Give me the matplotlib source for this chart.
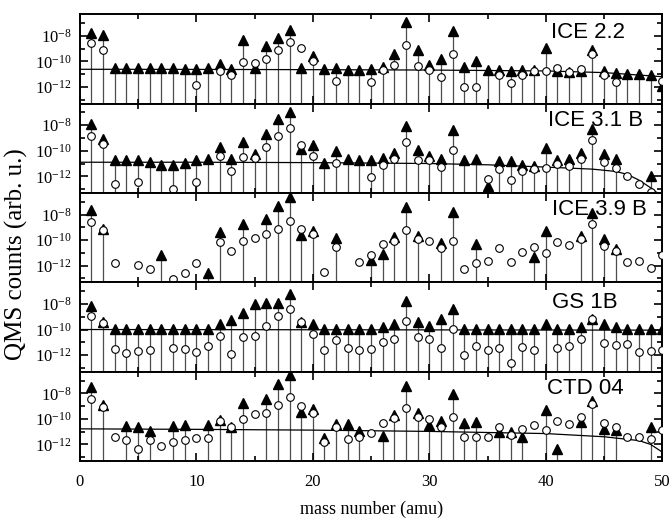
import numpy as np
import matplotlib
matplotlib.use("Agg")
import matplotlib.pyplot as plt
from matplotlib.ticker import FixedLocator, LogFormatterMathtext, NullFormatter

plt.rcParams['font.family'] = ['Liberation Serif', 'DejaVu Serif']
plt.rcParams['mathtext.fontset'] = 'stix'

nan = np.nan
masses = np.arange(1, 51)

# log10 of QMS counts, mass 1..50 (nan = not shown)
ice22_tri = [-7.79, -7.92, -10.55, -10.55, -10.55, -10.55, -10.55, -10.55, -10.6, -10.6,
             -10.55, -10.23, -10.57, -8.31, -10.5, -8.76, -8.18, -7.53, -10.5, -9.57,
             -10.6, -10.5, -10.65, -10.65, -10.6, -10.41, -9.44, -6.95, -9.1, -10.3,
             -9.84, -7.66, -10.41, -9.97, -10.68, -10.68, -10.75, -10.68, -10.68, -8.97,
             -10.75, -10.85, -10.75, -9.1, -10.75, -10.88, -10.99, -10.99, -11.07, -11.9]
ice22_circ = [-8.58, -9.1, nan, nan, nan, nan, nan, nan, nan, -11.86,
              nan, -10.73, -11.07, -10.02, -10.15, -9.84, -9.1, -8.45, -8.92, -9.97,
              nan, -11.52, nan, nan, -11.6, -10.68, -10.28, -8.71, -10.34, -10.68,
              -11.2, -9.42, -12.04, -12.04, nan, -11.07, -11.73, -11.1, -10.75, -10.74,
              -10.54, -10.8, -10.58, -9.44, -11.1, -11.6, nan, nan, nan, -11.5]

ice31_tri = [-7.87, -9.08, -10.7, -10.7, -10.76, -10.91, -11.15, -11.15, -10.97, -10.7,
             -10.63, -9.71, -10.65, -9.34, -10.23, -8.68, -7.55, -6.95, -9.84, -9.52,
             -10.97, -9.99, -10.65, -10.7, -10.7, -10.57, -10.18, -8.08, -9.91, -10.44,
             -10.62, -8.39, -10.76, -10.65, -12.75, -10.8, -10.8, -11.1, -11.2, -9.78,
             -10.7, -10.65, -10.18, -8.29, -10.26, -10.65, nan, nan, -11.94, nan]
ice31_circ = [-8.81, -9.44, -12.62, nan, -12.46, nan, nan, -12.98, nan, -12.41,
              nan, -10.44, -11.62, -10.52, -10.6, -9.71, -8.87, -8.21, -9.52, -10.39,
              nan, -10.93, nan, nan, -12.09, -11.1, -10.62, -9.31, -10.7, -10.76,
              -11.28, -9.91, nan, nan, -12.23, -11.44, -12.28, -11.62, -11.44, -11.36,
              -11.07, -11.23, -10.65, -9.13, -10.86, -11.36, -11.94, -12.62, -13.2, nan]

ice39_tri = [-7.63, -9.15, nan, nan, nan, nan, -11.18, nan, nan, nan,
             -12.57, -9.34, nan, -8.73, nan, -8.34, -7.29, -6.66, -9.6, -9.28,
             nan, -9.86, nan, nan, -11.52, -11.05, -9.73, -7.43, -9.65, nan,
             -10.26, -7.82, nan, -10.31, nan, nan, nan, nan, -11.31, -9.28,
             nan, nan, -9.68, -7.9, -9.91, -10.73, nan, nan, nan, nan]
ice39_circ = [-8.6, -9.2, -11.83, nan, -11.96, -12.27, nan, -13.01, -12.57, -11.83,
              nan, -10.18, -10.83, -10.07, -9.81, -9.5, -9.13, -8.5, -9.15, -9.55,
              -12.49, -10.52, nan, -11.75, -11.13, -10.34, -10.07, -9.2, -9.94, -10.04,
              -10.65, -10.04, -12.3, -11.83, -11.65, -10.65, -11.75, -10.91, -10.57, -10.99,
              -10.18, -10.39, -9.94, -8.73, -10.44, -10.83, -11.75, -11.65, -12.17, -11.18]

gs1b_tri = [-8.16, -9.42, -9.94, -9.94, -9.94, -9.94, -9.94, -9.94, -9.94, -9.94,
            -9.94, -9.55, -9.28, -8.68, -7.97, -7.9, -7.9, -7.24, -9.42, -9.6,
            -9.94, -9.94, -9.94, -9.94, -9.94, -9.79, -9.55, -7.76, -9.42, -9.73,
            -9.21, -8.42, -9.94, -9.94, -9.94, -9.94, -9.94, -9.94, -9.94, -9.55,
            -9.94, -9.94, -9.79, -9.21, -9.6, -9.79, -9.99, -9.99, -9.99, -9.99]
gs1b_circ = [-8.94, -9.47, -11.52, -11.83, -11.7, -11.57, nan, -11.44, -11.52, -11.75,
             -11.31, -10.52, -11.91, -10.6, -10.47, -9.73, -8.94, -8.37, -9.42, -10.39,
             -11.62, -10.83, -11.44, -11.57, -11.52, -10.99, -10.78, -9.34, -10.6, -10.78,
             -11.47, -9.99, -12.02, -11.31, -11.57, -11.47, -12.62, -11.39, -11.57, nan,
             -11.44, -11.31, -10.78, -9.21, -11.05, -11.18, -11.13, -11.75, -11.7, -11.6]

ctd04_tri = [-7.5, -8.89, nan, -10.57, -10.65, -10.91, nan, -10.57, -10.47, nan,
             -10.5, -10.07, -10.6, -8.76, nan, -8.47, -7.24, -6.58, -9.47, -9.21,
             -11.49, -10.39, -10.39, -10.91, nan, -11.31, -9.68, -7.45, -9.52, -10.44,
             -10.13, -8.03, -10.34, -10.26, nan, -10.99, -10.99, -11.39, nan, -9.34,
             -12.36, nan, -10.26, -8.6, -10.78, -10.86, nan, nan, -10.6, nan]
ctd04_circ = [-8.42, -9.08, -11.44, -11.62, -12.36, -11.62, -12.15, -11.78, -11.65, -11.49,
              -11.52, -10.2, -10.65, -9.99, -9.65, -9.52, -8.94, -8.29, -9.0, -9.55,
              -11.83, -10.65, -11.57, -11.44, -11.1, -10.34, -9.94, -9.13, -9.86, -10.02,
              -10.6, -9.86, -11.39, -11.39, -11.39, -10.6, -11.23, -10.83, -10.44, -10.86,
              -10.13, -10.39, -9.86, -8.86, -10.34, -10.6, -11.39, -11.39, -11.57, -10.86]

# background curves (log10), read at a few masses
ice22_bg_m = [0, 10, 20, 30, 40, 45, 50]
ice22_bg = [-10.62, -10.63, -10.65, -10.68, -10.75, -10.88, -11.2]
ice31_bg_m = [0, 10, 20, 30, 35, 40, 44, 46, 47, 48, 49, 50]
ice31_bg = [-10.9, -10.9, -10.93, -11.0, -11.1, -11.28, -11.44, -11.62, -11.85, -12.3, -12.9, -13.6]
gs1b_bg_m = [0, 50]
gs1b_bg = [-10.0, -10.05]
ctd04_bg_m = [0, 10, 20, 30, 40, 45, 48, 49, 50]
ctd04_bg = [-10.78, -10.82, -10.88, -10.98, -11.15, -11.4, -11.7, -12.0, -12.6]

panels = [
    ("ICE 2.2", ice22_tri, ice22_circ, ice22_bg_m, ice22_bg, 0.936, 0.79),
    ("ICE 3.1 B", ice31_tri, ice31_circ, ice31_bg_m, ice31_bg, 0.967, 0.81),
    ("ICE 3.9 B", ice39_tri, ice39_circ, None, None, 0.974, 0.81),
    ("GS 1B", gs1b_tri, gs1b_circ, gs1b_bg_m, gs1b_bg, 0.923, 0.77),
    ("CTD 04", ctd04_tri, ctd04_circ, ctd04_bg_m, ctd04_bg, 0.933, 0.81),
]

ylo, yhi = 10 ** -13.3, 10 ** -6.3

fig, axes = plt.subplots(5, 1, figsize=(6.71, 5.23), dpi=100, sharex=True)
fig.subplots_adjust(left=0.119, right=0.987, top=0.973, bottom=0.1185, hspace=0)

for ax, (name, tri, circ, bgm, bg, tx, ty) in zip(axes, panels):
    tri = 10.0 ** np.array(tri)
    circ = 10.0 ** np.array(circ)
    ok = ~np.isnan(tri)
    ax.vlines(masses[ok], ylo, tri[ok], colors='0.3', lw=0.9, zorder=1)
    if bgm is not None:
        ax.plot(bgm, 10.0 ** np.array(bg), color='black', lw=0.9, zorder=2)
    ax.plot(masses, tri, ls='none', marker='^', ms=7, color='black', zorder=3)
    ax.plot(masses, circ, ls='none', marker='o', ms=5.5, mfc='white', mec='black',
            mew=0.8, zorder=4)
    ax.set_yscale('log')
    ax.set_ylim(ylo, yhi)
    ax.set_xlim(0, 50)
    ax.yaxis.set_major_locator(FixedLocator([1e-12, 1e-10, 1e-8]))
    ax.yaxis.set_minor_locator(FixedLocator([1e-13, 1e-11, 1e-9, 1e-7]))
    ax.yaxis.set_major_formatter(LogFormatterMathtext())
    ax.yaxis.set_minor_formatter(NullFormatter())
    ax.set_xticks([0, 10, 20, 30, 40, 50])
    ax.set_xticks([5, 15, 25, 35, 45], minor=True)
    ax.tick_params(which='both', direction='in', top=True, right=True, width=1.2)
    ax.tick_params(which='major', length=6, labelsize=12, pad=6)
    ax.tick_params(which='minor', length=3.5)
    ax.tick_params(axis='x', which='major', pad=9)
    for s in ax.spines.values():
        s.set_linewidth(1.4)
    ax.text(tx, ty, name, transform=ax.transAxes, ha='right', va='center',
            fontsize=16, family=['Liberation Sans', 'DejaVu Sans'])

axes[-1].set_xlabel("mass number (amu)", fontsize=13, labelpad=8)
fig.text(0.025, 0.515, "QMS counts (arb. u.)", rotation=90, ha='center', va='center',
         fontsize=18)

fig.savefig("out.png", dpi=100)
